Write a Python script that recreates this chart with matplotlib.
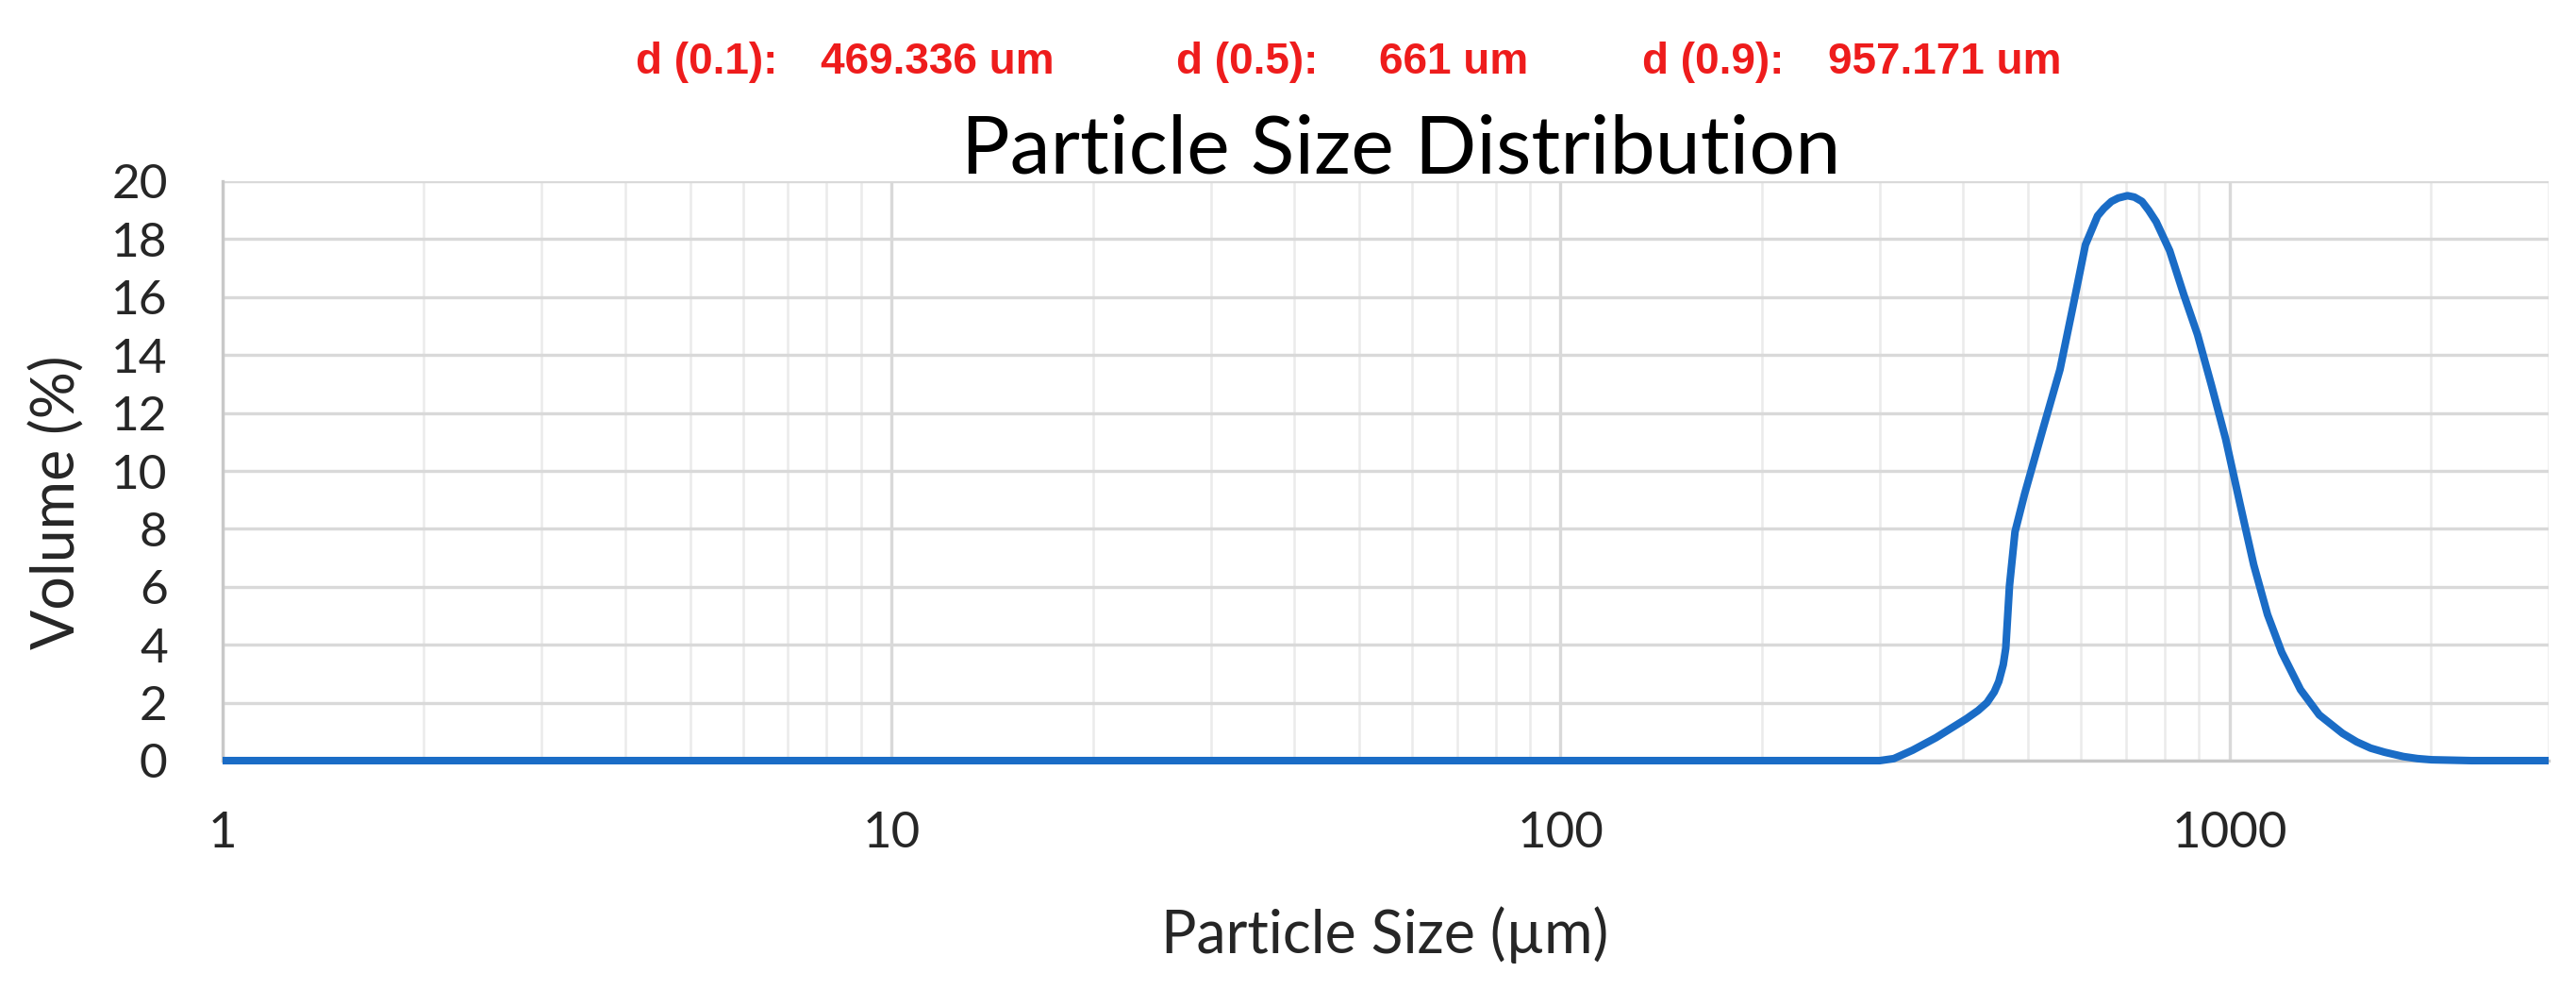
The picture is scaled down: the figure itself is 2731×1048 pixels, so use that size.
import matplotlib
matplotlib.use("Agg")
import matplotlib.pyplot as plt
from matplotlib.ticker import FixedLocator, NullFormatter

# ---- data ----
size_um = [1, 10, 100, 300, 315, 336, 364, 404, 421, 434, 445, 452, 459, 463, 469, 478,
           494, 527, 558, 585, 609, 635, 649, 666, 682, 704, 721, 740, 757, 777, 814,
           854, 896, 940, 987, 1036, 1087, 1140, 1197, 1277, 1362, 1476, 1549, 1626,
           1706, 1820, 1910, 2005, 2300, 3000]
volume_pct = [0, 0, 0, 0, 0.07, 0.36, 0.79, 1.44, 1.73, 2.0, 2.37, 2.73, 3.31, 3.88, 6.04, 7.9,
              9.2, 11.5, 13.5, 15.8, 17.8, 18.8, 19.06, 19.3, 19.42, 19.5, 19.45, 19.3, 19.0, 18.6, 17.6,
              16.1, 14.7, 12.95, 11.1, 8.9, 6.76, 5.04, 3.74, 2.45, 1.58, 0.94, 0.65, 0.43,
              0.29, 0.14, 0.07, 0.03, 0, 0]
y_ticks = [0, 2, 4, 6, 8, 10, 12, 14, 16, 18, 20]
x_ticks = [1, 10, 100, 1000]
x_tick_labels = ["1", "10", "100", "1000"]
stats_labels = ["d (0.1):", "469.336 um", "d (0.5):", "661 um", "d (0.9):", "957.171 um"]

W, H = 2731, 1048
fig = plt.figure(figsize=(W / 100, H / 100), dpi=100)
L, R, B, T = 236 / W, 2702 / W, 1 - 806 / H, 1 - 192 / H
ax = fig.add_axes([L, B, R - L, T - B])

font = ["Lato", "DejaVu Sans"]
grid_c = "#d9d9d9"

ax.set_xscale("log")
ax.set_xlim(1, 3000)
ax.set_ylim(0, 20)

minor = [m * 10 ** e for e in range(0, 4) for m in range(2, 10) if m * 10 ** e <= 3000]
ax.xaxis.set_major_locator(FixedLocator(x_ticks))
ax.xaxis.set_minor_locator(FixedLocator(minor))
ax.xaxis.set_minor_formatter(NullFormatter())
ax.set_xticks(x_ticks)
ax.set_xticklabels(x_tick_labels)
ax.set_yticks(y_ticks)

ax.grid(which="major", axis="both", color=grid_c, lw=2.4)
ax.grid(which="minor", axis="x", color="#ebebeb", lw=1.8)
ax.set_axisbelow(True)

for s in ["top", "right"]:
    ax.spines[s].set_visible(False)
ax.spines["left"].set_color("#c8c8c8")
ax.spines["left"].set_linewidth(2.4)
ax.spines["bottom"].set_color("#c8c8c8")
ax.spines["bottom"].set_linewidth(2.4)

ax.tick_params(axis="both", which="both", length=0)
ax.tick_params(axis="y", pad=42, labelsize=37, labelcolor="#262626")
ax.tick_params(axis="x", pad=39, labelsize=38, labelcolor="#262626")
for lab in ax.get_xticklabels() + ax.get_yticklabels():
    lab.set_family(font)

ax.plot(size_um, volume_pct, color="#1a6cc6", lw=5.8, solid_capstyle="butt",
        solid_joinstyle="round", zorder=3, clip_on=False)

fig.text(1485 / W, 1 - 183 / H, "Particle Size Distribution", ha="center",
         va="baseline", fontsize=62, family=font, color="#000000")
fig.text(1468 / W, 1 - 991 / H, "Particle Size (µm)", ha="center", va="center",
         fontsize=45, family=font, color="#262626")
fig.text(61 / W, 1 - 532 / H, "Volume (%)", ha="center", va="center", rotation=90,
         fontsize=45, family=font, color="#262626")

xs = [674, 870, 1247, 1462, 1741, 1938]
for x, t in zip(xs, stats_labels):
    fig.text(x / W, 1 - 66 / H, t, ha="left", va="center", fontsize=33,
             fontweight="bold", family=["Liberation Sans", "DejaVu Sans"],
             color="#ee1c1c")

fig.savefig("out.png", dpi=100)
